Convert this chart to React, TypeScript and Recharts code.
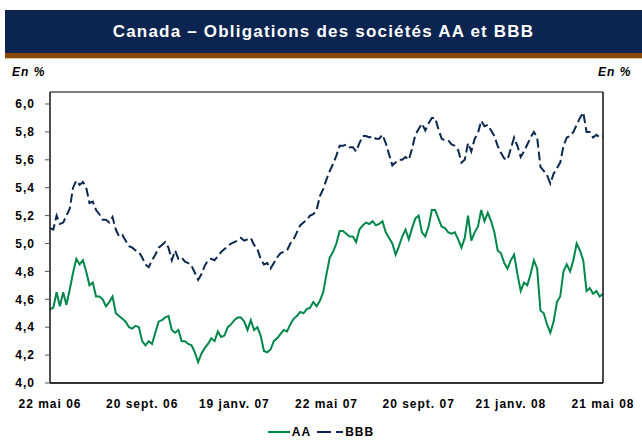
import { LineChart, Line, XAxis, YAxis, ReferenceLine } from "recharts";

const TITLE = "Canada – Obligations des sociétés AA et BBB";
const UNIT = "En %";

const dateLabels = ["22 mai 06", "20 sept. 06", "19 janv. 07", "22 mai 07", "20 sept. 07", "21 janv. 08", "21 mai 08"];

// AA yields, roughly every few trading days
const aaSeries = [
  4.53, 4.54, 4.65, 4.55, 4.65, 4.56, 4.67, 4.79, 4.89, 4.85, 4.88, 4.8, 4.7, 4.72, 4.62, 4.62, 4.6, 4.55, 4.58, 4.62, 4.5, 4.48, 4.46, 4.44, 4.4, 4.39, 4.41, 4.4,
  4.3, 4.27, 4.3, 4.28, 4.36, 4.44, 4.45, 4.47, 4.48, 4.38, 4.36, 4.38, 4.3, 4.3, 4.28, 4.27, 4.22, 4.15, 4.21, 4.25, 4.28, 4.32, 4.3, 4.37, 4.33, 4.34, 4.4, 4.42,
  4.45, 4.47, 4.47, 4.44, 4.38, 4.45, 4.38, 4.4, 4.34, 4.23, 4.22, 4.24, 4.3, 4.32, 4.35, 4.38, 4.37, 4.42, 4.46, 4.48, 4.51, 4.5, 4.53, 4.54, 4.58, 4.55, 4.59, 4.65,
  4.78, 4.9, 4.94, 5.0, 5.09, 5.09, 5.07, 5.05, 5.05, 5.01, 5.1, 5.13, 5.15, 5.14, 5.16, 5.13, 5.14, 5.16, 5.08, 5.04, 5.0, 4.92, 4.98, 5.05, 5.1, 5.03, 5.11, 5.18,
  5.2, 5.08, 5.05, 5.12, 5.24, 5.24, 5.18, 5.12, 5.11, 5.08, 5.07, 5.08, 5.03, 4.97, 5.04, 5.2, 5.02, 5.08, 5.12, 5.24, 5.16, 5.22, 5.16, 5.08, 4.95, 4.93, 4.86, 4.82,
  4.88, 4.92, 4.78, 4.66, 4.72, 4.7, 4.78, 4.88, 4.82, 4.52, 4.5, 4.42, 4.36, 4.44, 4.58, 4.62, 4.8, 4.85, 4.8, 4.88, 5.0, 4.95, 4.88, 4.66, 4.68, 4.64, 4.66, 4.62, 4.64,
];

const bbbSeries = [
  5.11, 5.1, 5.2, 5.14, 5.15, 5.2, 5.25, 5.4, 5.45, 5.42, 5.44, 5.4, 5.29, 5.3, 5.24, 5.21, 5.17, 5.17, 5.15, 5.19, 5.1, 5.05, 5.06, 5.02, 4.98, 4.97, 4.95, 4.94,
  4.9, 4.85, 4.83, 4.88, 4.92, 4.97, 4.99, 5.01, 4.97, 4.88, 4.95, 4.89, 4.9, 4.87, 4.86, 4.84, 4.79, 4.74, 4.78, 4.84, 4.88, 4.89, 4.88, 4.91, 4.94, 4.96, 4.98, 5.0,
  5.01, 5.02, 5.04, 5.02, 5.03, 5.04, 4.99, 4.96, 4.89, 4.85, 4.86, 4.82, 4.86, 4.9, 4.93, 4.94, 4.95, 5.0, 5.03, 5.08, 5.13, 5.15, 5.17, 5.2, 5.21, 5.24, 5.34, 5.39,
  5.46, 5.52, 5.57, 5.63, 5.7, 5.7, 5.71, 5.69, 5.69, 5.66, 5.72, 5.77, 5.77, 5.76, 5.77, 5.75, 5.75, 5.78, 5.72, 5.64, 5.56, 5.58, 5.6, 5.6, 5.62, 5.6, 5.68, 5.78,
  5.82, 5.86, 5.81, 5.86, 5.9, 5.9, 5.82, 5.75, 5.74, 5.74, 5.71, 5.7, 5.67, 5.58, 5.6, 5.72, 5.66, 5.75, 5.79, 5.88, 5.84, 5.85, 5.81, 5.77, 5.7, 5.65, 5.61, 5.6,
  5.68, 5.76, 5.7, 5.62, 5.66, 5.71, 5.76, 5.8, 5.76, 5.55, 5.52, 5.49, 5.43, 5.5, 5.54, 5.58, 5.7, 5.76, 5.77, 5.8, 5.85, 5.9, 5.94, 5.8, 5.8, 5.76, 5.78, 5.76, 5.77,
];

const yTicks = [4.0, 4.2, 4.4, 4.6, 4.8, 5.0, 5.2, 5.4, 5.6, 5.8, 6.0];
const Y_MAX = 6.086;

const AA_COLOR = "#00874a";
const BBB_COLOR = "#0c2850";
const FONT = "'Liberation Sans', Arial, sans-serif";

const data = aaSeries.map((aa, i) => ({ i, aa, bbb: bbbSeries[i] }));
const step = (aaSeries.length - 1) / (dateLabels.length - 1);
const xTicks = dateLabels.map((_, k) => k * step);

const fmt = (v: number) => v.toFixed(1).replace(".", ",");
const tickStyle = { fontSize: 12, fontWeight: 700, fill: "#000", fontFamily: FONT, letterSpacing: 1 };

export default function App() {
  return (
    <div style={{ position: "absolute", left: 0, top: 0, width: 642, height: 440, background: "#fff", fontFamily: FONT }}>
      <div
        style={{
          position: "absolute",
          left: 5,
          top: 10,
          width: 637,
          height: 43,
          background: "#0b2450",
          color: "#fff",
          fontWeight: 700,
          fontSize: 17,
          letterSpacing: 1.2,
          lineHeight: "44px",
          textAlign: "center",
        }}
      >
        {TITLE}
      </div>
      <div style={{ position: "absolute", left: 5, top: 53, width: 637, height: 5, background: "#8a4708" }} />
      <div style={{ position: "absolute", left: 5, top: 58, width: 637, height: 1, background: "#d9c7a8" }} />
      <div style={{ position: "absolute", left: 12, top: 65, fontSize: 12, fontWeight: 700, fontStyle: "italic", letterSpacing: 1 }}>{UNIT}</div>
      <div style={{ position: "absolute", left: 598, top: 65, fontSize: 12, fontWeight: 700, fontStyle: "italic", letterSpacing: 1 }}>{UNIT}</div>

      <div style={{ position: "absolute", left: 0, top: 0 }}>
        <LineChart width={642} height={440} data={data} margin={{ top: 92, right: 0, left: 0, bottom: 0 }}>
          <XAxis
            dataKey="i"
            type="number"
            domain={[0, aaSeries.length - 1]}
            ticks={xTicks}
            tickFormatter={(v: number) => dateLabels[Math.round(v / step)]}
            interval={0}
            height={57}
            tickLine={false}
            tickMargin={10}
            axisLine={{ stroke: "#333", strokeWidth: 2 }}
            tick={tickStyle}
          />
          <YAxis
            yAxisId="left"
            width={50}
            domain={[4, Y_MAX]}
            ticks={yTicks}
            tickFormatter={fmt}
            tickSize={5}
            tickMargin={10}
            axisLine={{ stroke: "#111", strokeWidth: 1.5 }}
            tickLine={{ stroke: "#555" }}
            tick={tickStyle}
          />
          <YAxis
            yAxisId="right"
            orientation="right"
            width={39}
            domain={[4, Y_MAX]}
            ticks={yTicks}
            tickFormatter={fmt}
            tickSize={5}
            tickMargin={4}
            axisLine={{ stroke: "#111", strokeWidth: 1.5 }}
            tickLine={{ stroke: "#555" }}
            tick={tickStyle}
          />
          <ReferenceLine yAxisId="left" y={Y_MAX} stroke="#000" strokeWidth={1} />
          <Line
            yAxisId="left"
            type="linear"
            dataKey="bbb"
            stroke={BBB_COLOR}
            strokeWidth={2}
            strokeDasharray="9 4"
            dot={false}
            isAnimationActive={false}
          />
          <Line
            yAxisId="left"
            type="linear"
            dataKey="aa"
            stroke={AA_COLOR}
            strokeWidth={2}
            dot={false}
            isAnimationActive={false}
          />
        </LineChart>
      </div>

      <div
        style={{
          position: "absolute",
          left: 0,
          top: 425,
          width: 642,
          display: "flex",
          justifyContent: "center",
          alignItems: "center",
          fontSize: 12,
          fontWeight: 700,
          letterSpacing: 1,
        }}
      >
        <svg width={22} height={6}>
          <line x1={0} y1={3} x2={22} y2={3} stroke={AA_COLOR} strokeWidth={2} />
        </svg>
        <span style={{ marginLeft: 2, marginRight: 6 }}>AA</span>
        <svg width={26} height={6}>
          <line x1={0} y1={3} x2={26} y2={3} stroke={BBB_COLOR} strokeWidth={2} strokeDasharray="14 5" />
        </svg>
        <span style={{ marginLeft: 2 }}>BBB</span>
      </div>
    </div>
  );
}
